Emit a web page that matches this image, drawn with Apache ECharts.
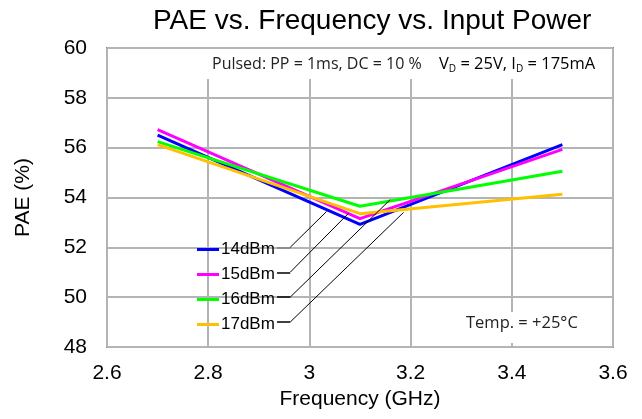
<!DOCTYPE html>
<html><head><meta charset="utf-8">
<script src="https://cdn.jsdelivr.net/npm/echarts@6/dist/echarts.min.js"></script>
<style>html,body{margin:0;padding:0;background:#fff}#c{width:642px;height:419px}</style>
</head><body><div id="c"></div>
<script>
var freqs = [2.7, 3.1, 3.5];
var seriesNames = ['14dBm', '15dBm', '16dBm', '17dBm'];
var pae14 = [56.5, 52.92, 56.12];
var pae15 = [56.72, 53.15, 55.93];
var pae16 = [56.24, 53.65, 55.05];
var pae17 = [56.12, 53.35, 54.13];
var colors = ['#0000ff', '#ff00ff', '#00ff00', '#ffc000'];
// leader lines: [label-side y, end x, end y]
var leaders = [[52.0, 3.034, 53.44], [51.0, 3.077, 53.36], [50.0, 3.160, 53.92], [49.0, 3.186, 53.40]];
var allData = [pae14, pae15, pae16, pae17];

var chart = echarts.init(document.getElementById('c'));
var F = '"Liberation Sans", Arial, sans-serif';
var OS = '"Open Sans", sans-serif';
var series = seriesNames.map(function (n, i) {
  var L = leaders[i];
  return {
    name: n, type: 'line', data: freqs.map(function (f, j) { return [f, allData[i][j]]; }),
    showSymbol: false, symbol: 'none', lineStyle: { color: colors[i], width: 3 }, itemStyle: { color: colors[i] },
    z: 3,
    markLine: {
      silent: true, symbol: 'none', animation: false,
      label: { show: false },
      data: [
        [{ coord: [2.936, L[0]], lineStyle: { color: i === 0 ? '#808080' : '#000', width: 1.5, type: 'solid' } }, { coord: [2.962, L[0]] }],
        [{ coord: [2.962, L[0]], lineStyle: { color: '#000', width: 1, type: 'solid' } }, { coord: [L[1], L[2]] }]
      ]
    }
  };
});

chart.setOption({
  animation: false,
  title: { text: 'PAE vs. Frequency vs. Input Power', left: 148, top: 2, textStyle: { fontFamily: F, fontSize: 28, fontWeight: 'normal', color: '#000' } },
  grid: { left: 107, top: 48, right: 29, bottom: 72, show: true, borderColor: '#888', borderWidth: 2, backgroundColor: 'transparent' },
  legend: {
    data: seriesNames, orient: 'vertical', left: 192, top: 236, itemGap: 8, itemWidth: 22, itemHeight: 3, icon: 'rect',
    textStyle: { fontFamily: F, fontSize: 17, color: '#000', padding: [0, 0, 0, -3] }, selectedMode: false
  },
  xAxis: {
    type: 'value', min: 2.6, max: 3.6, interval: 0.2,
    name: 'Frequency (GHz)', nameLocation: 'middle', nameGap: 42,
    nameTextStyle: { fontFamily: F, fontSize: 21, color: '#000' },
    axisLine: { show: false }, axisTick: { show: false },
    axisLabel: { fontFamily: F, fontSize: 21, color: '#000', margin: 16, formatter: function (v) { return +v.toFixed(1) + ''; } },
    splitLine: { show: true, lineStyle: { color: '#b4b4b4', width: 2 } }
  },
  yAxis: {
    type: 'value', min: 48, max: 60, interval: 2,
    name: 'PAE (%)', nameLocation: 'middle', nameGap: 73,
    nameTextStyle: { fontFamily: F, fontSize: 21, color: '#000' },
    axisLine: { show: false }, axisTick: { show: false },
    axisLabel: { fontFamily: F, fontSize: 21, color: '#000', margin: 20 },
    splitLine: { show: true, lineStyle: { color: '#b4b4b4', width: 2 } }
  },
  graphic: [
    { type: 'rect', z: 10, shape: { x: 204, y: 49, width: 406, height: 30 }, style: { fill: '#fff' } },
    { type: 'rect', z: 10, shape: { x: 458, y: 312, width: 130, height: 31 }, style: { fill: '#fff' } },
    { type: 'text', z: 11, left: 212, top: 56, style: { text: 'Pulsed: PP = 1ms, DC = 10 %', font: '16px "Open Sans", sans-serif', fill: '#222' } },
    { type: 'text', z: 11, left: 439, top: 56, style: {
        text: '{a|V}{s|D}{a| = 25V, I}{s|D}{a| = 175mA}',
        rich: { a: { fontFamily: OS, fontSize: 16.5, color: '#222' }, s: { fontFamily: OS, fontSize: 10, color: '#222', padding: [10, 0, 0, 0] } } } },
    { type: 'text', z: 11, left: 466, top: 315, style: { text: 'Temp. = +25°C', font: '16.5px "Open Sans", sans-serif', fill: '#222' } }
  ],
  series: series
});
</script></body></html>
